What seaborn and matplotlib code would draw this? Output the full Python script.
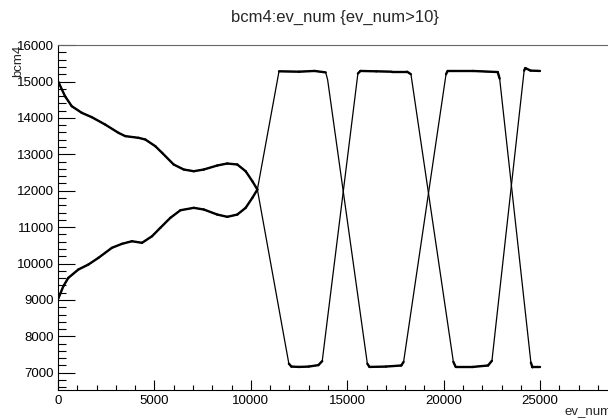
import numpy as np
import pandas as pd
import seaborn as sns
import matplotlib.pyplot as plt
from matplotlib.ticker import MultipleLocator
from matplotlib.collections import LineCollection

# data
# curve that starts high (~15000)
ev_a = [10, 364, 712, 1233, 1753, 2445, 3137, 3486, 4178, 4527, 5047, 5400,
        5999, 6520, 7040, 7560, 8257, 8777, 9298, 9730, 10078, 10338,
        11970, 12100, 12500, 13000, 13500, 13700,
        15550, 15680, 16500, 17300, 18100, 18300,
        20500, 20620, 21500, 22300, 22500,
        24170, 24230, 24500, 24990]
bcm_a = [15000, 14596, 14322, 14140, 14020, 13818, 13590, 13500, 13453, 13407, 13223, 13040,
         12720, 12583, 12536, 12583, 12693, 12748, 12720, 12536, 12261, 12033,
         7250, 7170, 7160, 7170, 7210, 7320,
         15220, 15290, 15280, 15270, 15270, 15200,
         7300, 7160, 7160, 7200, 7330,
         15300, 15370, 15300, 15290]

# curve that starts low (~9000)
ev_b = [10, 276, 536, 1056, 1576, 2097, 2794, 3314, 3834, 4355, 4875, 5307,
        5827, 6347, 7040, 7560, 8257, 8777, 9298, 9730, 10078, 10338,
        11460, 12500, 13300, 13880, 13980,
        16040, 16150, 17000, 17800, 17920,
        20120, 20200, 21500, 22800, 22900,
        24520, 24600, 24990]
bcm_b = [9030, 9377, 9607, 9836, 9973, 10157, 10432, 10541, 10613, 10569, 10750, 10981,
         11256, 11464, 11530, 11484, 11346, 11283, 11346, 11530, 11805, 12033,
         15280, 15270, 15290, 15250, 15050,
         7250, 7160, 7170, 7200, 7300,
         15200, 15290, 15290, 15260, 15080,
         7280, 7150, 7150]

df_a = pd.DataFrame({'ev_num': ev_a, 'bcm4': bcm_a})
df_b = pd.DataFrame({'ev_num': ev_b, 'bcm4': bcm_b})

sns.set_theme(style='white')
plt.rcParams['font.family'] = ['Liberation Sans', 'DejaVu Sans']

fig = plt.figure(figsize=(6.08, 4.2), dpi=100)
ax = fig.add_axes([0.0954, 0.0726, 0.911, 0.820])

for d in (df_a, df_b):
    sns.lineplot(data=d, x='ev_num', y='bcm4', sort=False, estimator=None,
                 color='black', linewidth=0.9, ax=ax)
    # slow parts look thicker in the reference (many dense points)
    pts = d[['ev_num', 'bcm4']].to_numpy(float)
    segs = np.stack([pts[:-1], pts[1:]], axis=1)
    slope = np.abs(np.diff(pts[:, 1]) / np.diff(pts[:, 0]))
    ax.add_collection(LineCollection(segs[slope < 2], colors='black',
                                     linewidths=1.7, capstyle='round'))

ax.set_xlim(0, 28720)
ax.set_ylim(6540, 16000)

ax.xaxis.set_major_locator(MultipleLocator(5000))
ax.xaxis.set_minor_locator(MultipleLocator(1000))
ax.yaxis.set_major_locator(MultipleLocator(1000))
ax.yaxis.set_minor_locator(MultipleLocator(200))

ax.tick_params(axis='both', which='both', direction='in', colors='black',
               labelsize=9.5, width=0.8, bottom=True, left=True,
               top=False, right=False)
ax.tick_params(axis='y', which='major', length=12, pad=3)
ax.tick_params(axis='y', which='minor', length=6)
ax.tick_params(axis='x', which='major', length=7, pad=4)
ax.tick_params(axis='x', which='minor', length=3.6)

for s in ax.spines.values():
    s.set_color('#666666')
    s.set_linewidth(0.8)
ax.spines['left'].set_color('black')
ax.spines['bottom'].set_color('black')

ax.set_xlabel('ev_num', fontsize=9.5, loc='right')
ax.xaxis.set_label_coords(1.0, -0.045)
ax.set_ylabel('bcm4', fontsize=9.5, loc='top')
ax.yaxis.set_label_coords(-0.062, 1.0)

ax.set_title('bcm4:ev_num {ev_num>10}', fontsize=12, pad=17)

fig.savefig('out.png', dpi=100)
